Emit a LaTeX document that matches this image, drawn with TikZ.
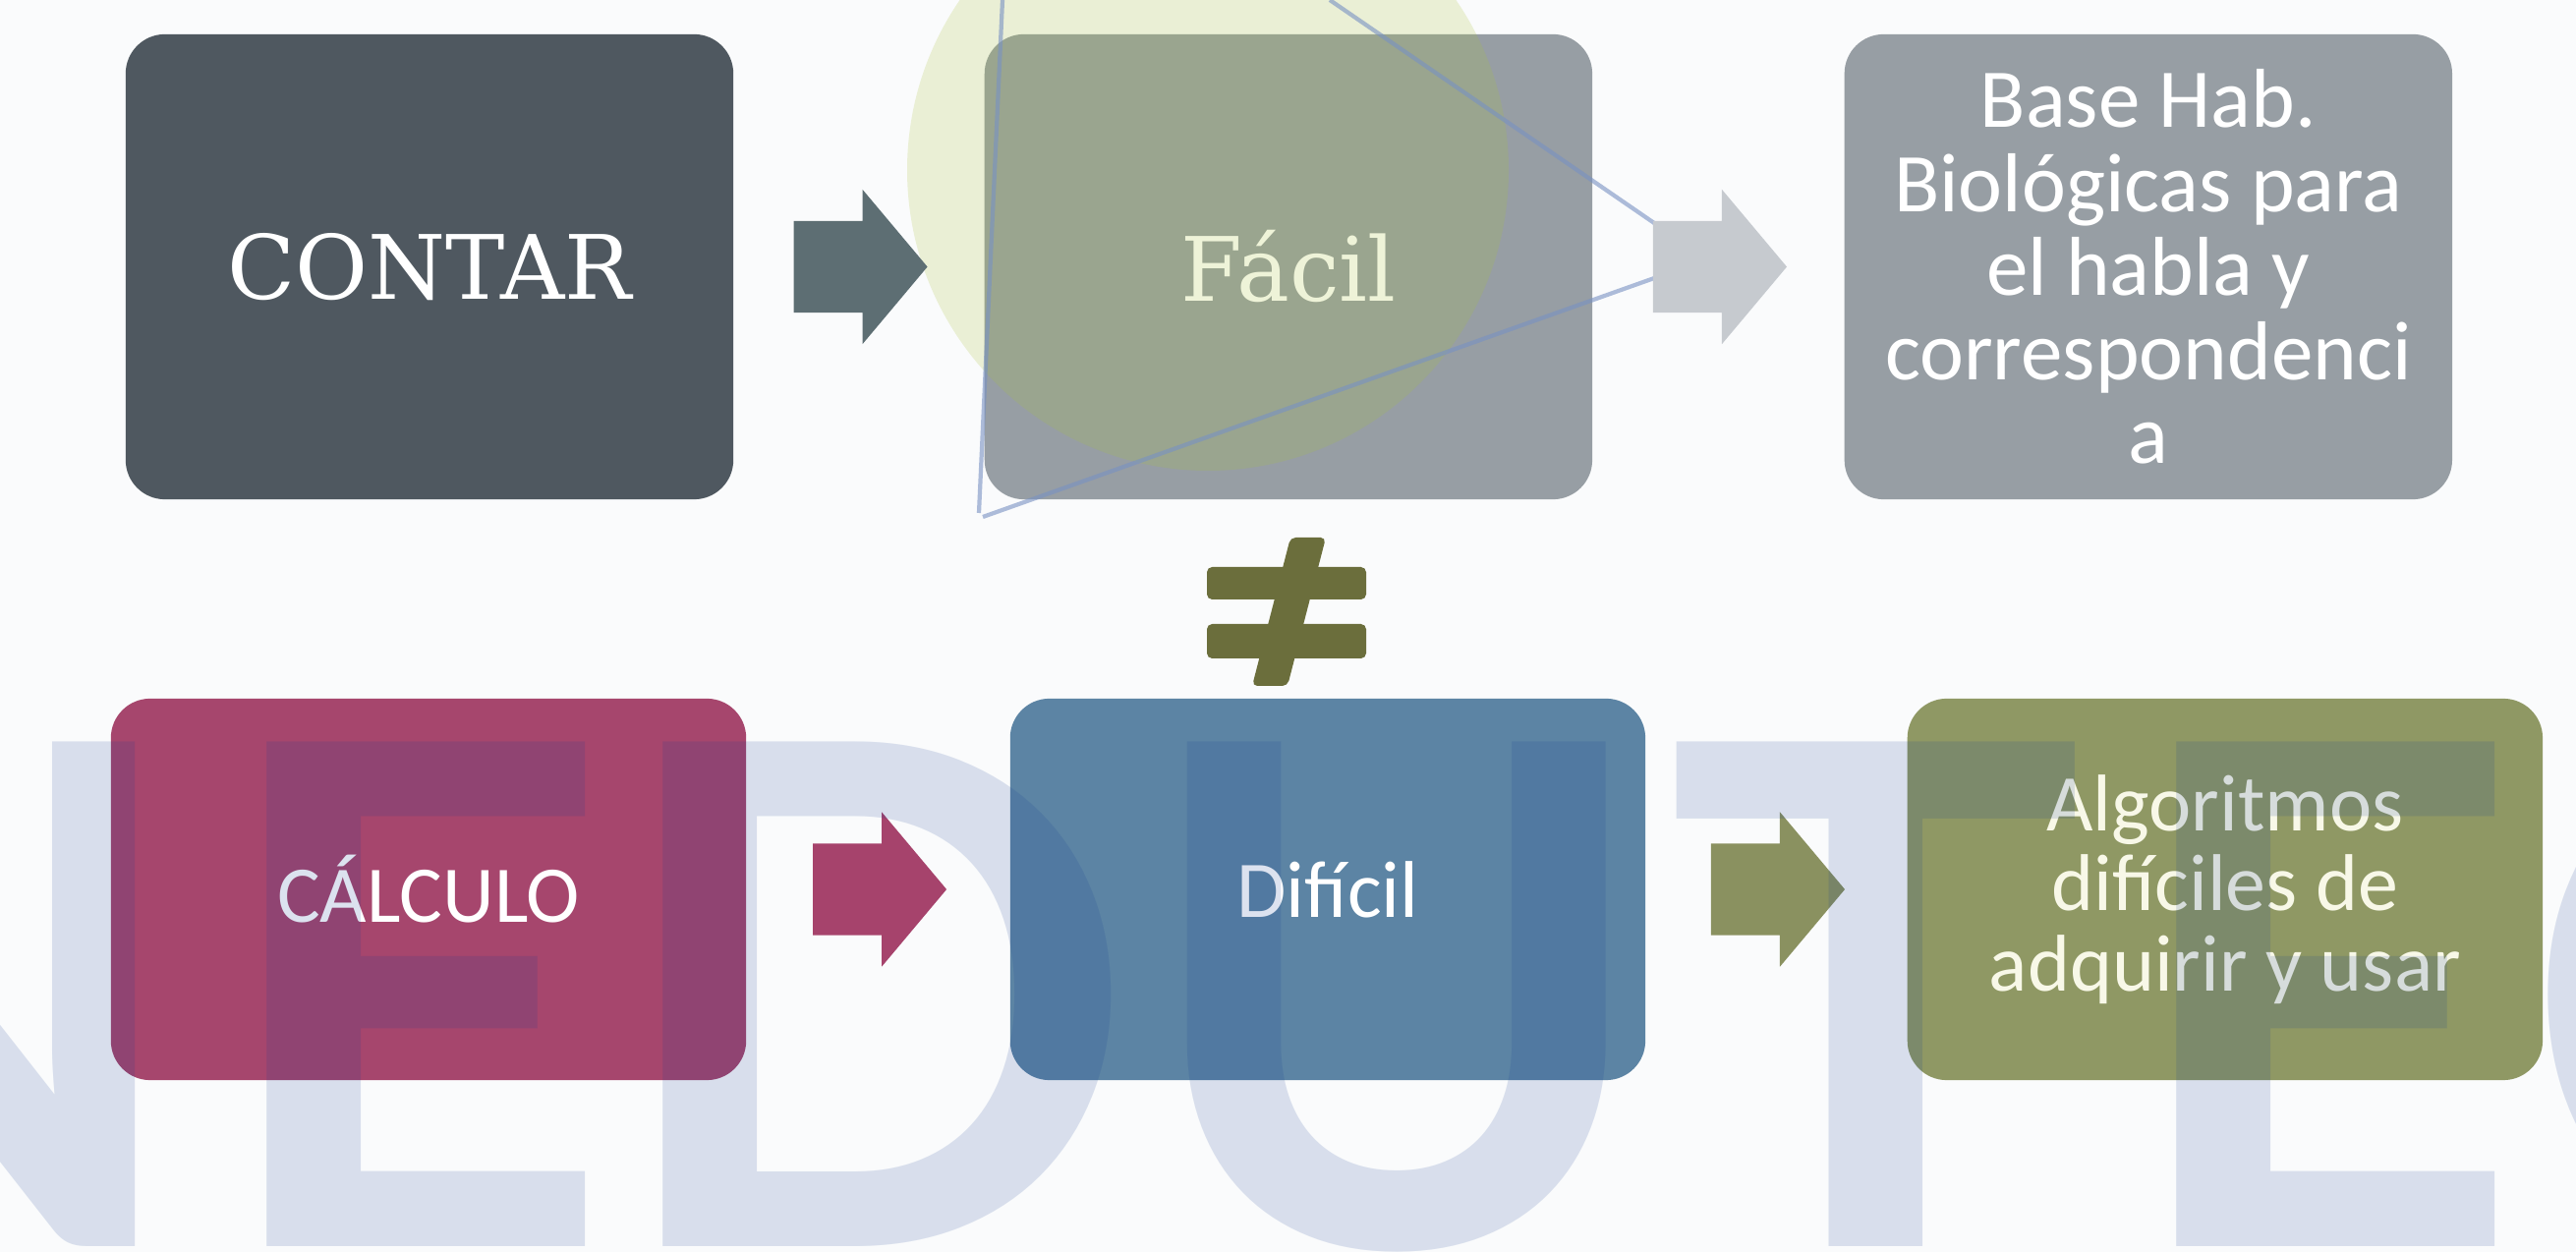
\documentclass[tikz,border=0pt]{standalone}
\usepackage{fontspec}
\usepackage{tikz}
\usetikzlibrary{shapes.arrows, positioning, calc}

\newfontfamily\boxserif{DejaVu Serif}
\newfontfamily\boxsans{Carlito}
\newfontfamily\markfont{Lato}

\definecolor{bgcol}{RGB}{250,251,252}
\definecolor{contarfill}{RGB}{79,88,96}
\definecolor{grayfill}{RGB}{151,158,164}
\definecolor{calcfill}{RGB}{166,70,109}
\definecolor{diffill}{RGB}{92,132,164}
\definecolor{algofill}{RGB}{143,152,100}
\definecolor{arrowslate}{RGB}{93,110,115}
\definecolor{arrowgray}{RGB}{198,202,207}
\definecolor{arrowcrim}{RGB}{166,67,108}
\definecolor{arrowolive}{RGB}{138,145,96}
\definecolor{neqolive}{RGB}{107,110,60}
\definecolor{glowgreen}{RGB}{170,195,60}
\definecolor{raycol}{RGB}{120,145,195}
\definecolor{wmblue}{RGB}{22,62,148}
\definecolor{creamtext}{RGB}{248,248,232}

\begin{document}
\begin{tikzpicture}[
    x=0.01cm, y=-0.01cm,
    box/.style={
        rectangle, rounded corners=0.4cm,
        minimum width=6.18cm, minimum height=4.73cm,
        align=center, inner sep=0pt, text=white
    },
    lowbox/.style={box, minimum width=6.46cm, minimum height=3.88cm},
    serifbox/.style={font=\boxserif\fontsize{25.7}{30}\selectfont},
    sansbox/.style={font=\boxsans\fontsize{23.3}{23.2}\selectfont},
    flowarrow/.style={
        single arrow, single arrow head extend=0.32cm,
        single arrow tip angle=100, minimum height=1.36cm,
        minimum width=0pt, inner xsep=0pt, inner ysep=0.46cm,
        xshift=-0.18cm
    },
    ray/.style={draw=raycol, line width=1.2pt, opacity=0.6},
    wmletter/.style={
        anchor=base, inner sep=0pt, text=wmblue, text opacity=0.15,
        font=\markfont\bfseries\fontsize{202}{202}\selectfont
    }
]
\useasboundingbox (0,0) rectangle (2621,1274);
\clip (0,0) rectangle (2621,1274);
\fill[bgcol] (0,0) rectangle (2621,1274);

% top row
\node (contar) [box, serifbox, fill=contarfill] at (437,271.5) {CONTAR};
\node (facil) [box, serifbox, fill=grayfill, right=2.54cm of contar] {Fácil};
\node (base) [box, sansbox, fill=grayfill, right=2.55cm of facil,
    font=\boxsans\fontsize{24.2}{24.3}\selectfont] {Base Hab.\\Biológicas para\\el habla y\\correspondenci\\a};

% bottom row
\node (calculo) [lowbox, sansbox, fill=calcfill] at (436,905) {CÁLCULO};
\node (dificil) [lowbox, sansbox, fill=diffill, right=2.67cm of calculo] {Difícil};
\node (algo) [lowbox, sansbox, fill=algofill, text=creamtext, right=2.65cm of dificil] {Algoritmos\\difíciles de\\adquirir y usar};

% glow and rays over Facil
\fill[glowgreen, opacity=0.2] (1229,173) circle (306);
\draw[ray] (1020,0) -- (996,522);
\draw[ray] (1353,0) -- (1686,229);
\draw[ray] (1000,526) -- (1686,282);

% arrows
\node (a1) [flowarrow, fill=arrowslate] at ($(contar.east)!0.5!(facil.west)$) {};
\node (a2) [flowarrow, fill=arrowgray] at ($(facil.east)!0.5!(base.west)$) {};
\node (a3) [flowarrow, fill=arrowcrim] at ($(calculo.east)!0.5!(dificil.west)$) {};
\node (a4) [flowarrow, fill=arrowolive] at ($(dificil.east)!0.5!(algo.west)$) {};

% not-equal sign between the rows
\node (neq) [minimum width=1.62cm, minimum height=1.51cm, inner sep=0pt] at (1309,622) {};
\begin{scope}[shift={(neq.center)}, neqolive]
\fill[rounded corners=1.5] (-81,-45) rectangle (81,-12);
\fill[rounded corners=1.5] (-81,13) rectangle (81,48);
\fill[rounded corners=1.5] (4,-75) -- (40,-75) -- (1,76) -- (-35,76) -- cycle;
\end{scope}

% watermark
\foreach \ch/\x [count=\i] in {N/-79,E/419,D/888,U/1421,T/1909,E/2362,C/2800}
    \node (wm\i) [wmletter] at (\x,1268) {\ch};
\end{tikzpicture}
\end{document}
